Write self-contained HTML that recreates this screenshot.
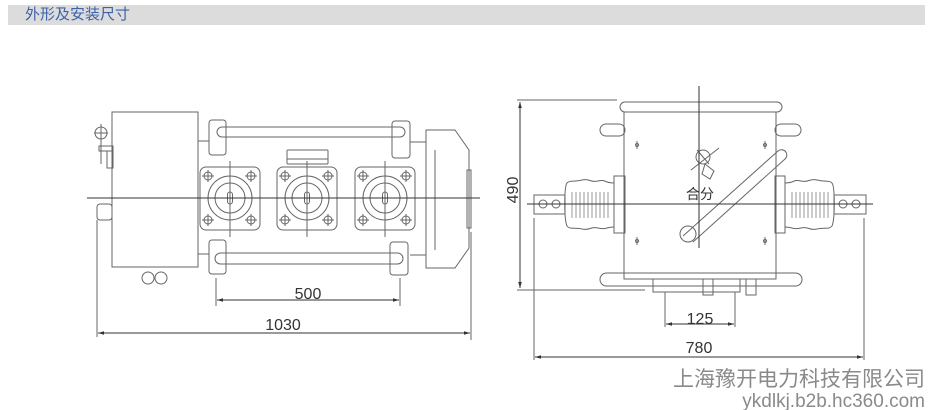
<!DOCTYPE html>
<html><head><meta charset="utf-8"><style>
html,body{margin:0;padding:0;background:#fff;}
body{width:931px;height:410px;position:relative;overflow:hidden;}
.hdr{position:absolute;left:8px;top:5px;width:917px;height:20px;background:#dcdcdc;}
.hdr span{position:absolute;left:17px;top:0px;font:15px "Liberation Sans","Noto Sans CJK SC",sans-serif;color:#3d62a8;line-height:20px;}
svg{position:absolute;left:0;top:0;}
</style></head><body>
<div class="hdr"><span>外形及安装尺寸</span></div>
<svg width="931" height="410" viewBox="0 0 931 410" font-family="Liberation Sans, Noto Sans CJK SC, sans-serif">
<defs>
<marker id="a" viewBox="0 0 10 10" refX="10" refY="5" markerWidth="6" markerHeight="6" orient="auto-start-reverse"><path d="M0,2 L10,5 L0,8z" fill="#333"/></marker>
<g id="fl" fill="none" stroke="#666" stroke-width="1">
<rect x="-30" y="-31" width="60" height="63" rx="6"/>
<circle r="22"/><circle r="15"/>
<rect x="-2.5" y="-6" width="5" height="12" rx="2.5"/>
<circle cx="-22" cy="-22" r="4"/><circle cx="21" cy="-22" r="4"/><circle cx="-22" cy="22" r="4"/><circle cx="21" cy="22" r="4"/>
<path d="M-28,-22h12M-22,-28v12M15,-22h12M21,-28v12M-28,22h12M-22,16v12M15,22h12M21,16v12"/>
<path d="M0,-37v76"/>
</g>
</defs>
<g fill="none" stroke="#666" stroke-width="1">
<rect x="112" y="112" width="86" height="155"/>
<path d="M198,141h11M198,254h11M410,142h16M410,255h16"/>
<rect x="209" y="120" width="17" height="35" rx="3"/>
<rect x="392" y="121" width="18" height="37" rx="3"/>
<rect x="217" y="127" width="188" height="10" rx="5"/>
<rect x="209" y="240" width="17" height="34" rx="3"/>
<rect x="390" y="242" width="18" height="33" rx="3"/>
<rect x="215" y="253" width="188" height="11" rx="5.5"/>
<rect x="287" y="150" width="41" height="14" rx="1"/>
<path d="M287,159h41"/>
<use href="#fl" x="230" y="198"/>
<use href="#fl" x="307" y="198"/>
<use href="#fl" x="385" y="198"/>
<path d="M426,130h29l14,20v98l-14,20h-29z"/>
<path d="M435,150v100"/>
<rect x="467" y="170" width="4" height="58"/>
<circle cx="101" cy="133" r="6"/>
<path d="M101,124v40M94,133h14"/>
<rect x="99" y="146" width="14" height="5"/>
<rect x="107" y="151" width="6" height="17"/>
<rect x="97" y="204" width="15" height="16" rx="3"/>
<circle cx="148" cy="278" r="6"/><circle cx="161" cy="278" r="6"/>
<path d="M87,198h393" stroke="#333"/>
<path d="M216,278v28M400,278v28M97,220v117M471,232v108"/>
<path d="M217,300H399" stroke="#333" marker-start="url(#a)" marker-end="url(#a)"/>
<path d="M98,333H470" stroke="#333" marker-start="url(#a)" marker-end="url(#a)"/>

<rect x="624" y="112" width="152" height="167"/>
<rect x="620" y="102" width="162" height="10" rx="5"/>
<rect x="600" y="124" width="25" height="12" rx="6"/>
<rect x="775" y="124" width="26" height="12" rx="6"/>
<rect x="600" y="273" width="202" height="13" rx="6.5"/>
<rect x="653" y="279" width="87" height="13"/>
<rect x="703" y="279" width="10" height="16"/>
<rect x="746" y="279" width="10" height="16"/>
<rect x="614" y="176" width="11" height="57"/>
<rect x="775" y="176" width="10" height="57"/>
<path d="M614,183c-10,0-8,-4-16,-2c-8,2-8,-3-16,-1c-8,2-12,0-15,3c-3,4-3,36 0,43c3,4 8,1 15,3c8,2 8,-3 16,-1c8,2 8,-1 16,-1"/>
<path d="M785,183c10,0 8,-4 16,-2c8,2 8,-3 16,-1c8,2 12,0 15,3c3,4 3,36 0,43c-3,4-8,1-15,3c-8,2-8,-3-16,-1c-8,2-8,-1-16,-1"/>
<path d="M572,192v26M576,192v26M580,192v26M584,192v26M588,192v26M592,192v26M596,192v26M600,192v26M604,192v26M608,192v26" stroke="#999"/>
<path d="M792,192v26M796,192v26M800,192v26M804,192v26M808,192v26M812,192v26M816,192v26M820,192v26M824,192v26M828,192v26" stroke="#999"/>
<rect x="534" y="195" width="31" height="19"/>
<rect x="834" y="195" width="32" height="19"/>
<circle cx="543" cy="204" r="4"/><circle cx="556" cy="204" r="4"/>
<circle cx="843" cy="204" r="4"/><circle cx="856" cy="204" r="4"/>
<path d="M683,236L778,151a5,5 0 0,1 7,8L693,242"/>
<circle cx="688" cy="234" r="8"/>
<circle cx="703" cy="157" r="7"/>
<path d="M691,170l28,-22M697,150l12,14M705,164l9,7l-4,8l-8,-5z"/>
<circle cx="637" cy="145" r="1.5"/><circle cx="765" cy="145" r="1.5"/>
<circle cx="637" cy="241" r="1.5"/><circle cx="765" cy="241" r="1.5"/>
<path d="M637,141v8M765,141v8M637,237v8M765,237v8"/>
<path d="M699,86v162M527,204h346" stroke="#333"/>
<path d="M517,100h100M517,290h128M665,292v35M735,292v35M534,218v142M864,218v142"/>
<path d="M520,102V288" stroke="#333" marker-start="url(#a)" marker-end="url(#a)"/>
<path d="M666,324H734" stroke="#333" marker-start="url(#a)" marker-end="url(#a)"/>
<path d="M535,357H863" stroke="#333" marker-start="url(#a)" marker-end="url(#a)"/>
</g>
<g fill="#333" font-size="16" text-anchor="middle">
<text x="308" y="299">500</text>
<text x="283" y="330">1030</text>
<text x="700" y="324">125</text>
<text x="699" y="353">780</text>
<text transform="translate(518,190) rotate(-90)">490</text>
<text x="700" y="199" font-size="14">合分</text>
</g>
<g fill="#8a8a8a" text-anchor="end">
<text x="925" y="386" font-size="21" font-family="Noto Sans CJK SC, sans-serif">上海豫开电力科技有限公司</text>
<text x="925" y="407" font-size="19" font-family="Liberation Sans, sans-serif">ykdlkj.b2b.hc360.com</text>
</g>
</svg>
</body></html>
